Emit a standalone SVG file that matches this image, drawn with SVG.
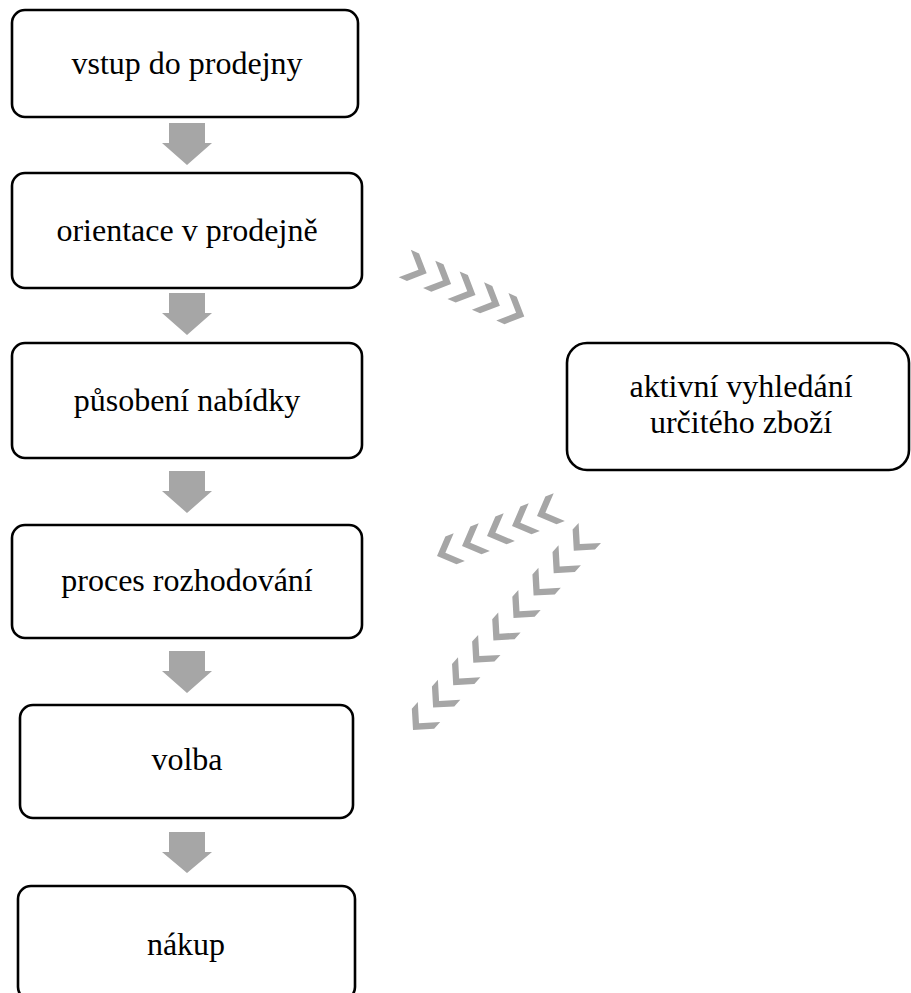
<svg xmlns="http://www.w3.org/2000/svg" xmlns:xlink="http://www.w3.org/1999/xlink" width="911" height="993" viewBox="0 0 911 993">
<style>
.box{fill:#fff;stroke:#000;stroke-width:2.6}
.t{font-family:"Liberation Serif","Times New Roman",serif;font-size:32px;fill:#000;text-anchor:middle}
.arr{fill:#a6a6a6}
</style>
<defs>
<polygon id="chev" points="0,0 -15,-15 -24,-15 -9,0 -24,15 -15,15" fill="#a6a6a6"/>
</defs>
<rect width="911" height="993" fill="#fff"/>
<g id="connectors">
<path class="arr" d="M169 123H205V143H212L187 165L162 143H169Z"/>
<path class="arr" d="M169 293H205V313H212L187 335L162 313H169Z"/>
<path class="arr" d="M169 471H205V491H212L187 513L162 491H169Z"/>
<path class="arr" d="M169 651H205V671H212L187 693L162 671H169Z"/>
<path class="arr" d="M169 832H205V852H212L187 873L162 852H169Z"/>
<g id="chevrons-out">
<use xlink:href="#chev" transform="translate(426.7,273.3) rotate(23.9)"/>
<use xlink:href="#chev" transform="translate(451.1,284.1) rotate(23.9)"/>
<use xlink:href="#chev" transform="translate(475.5,294.9) rotate(23.9)"/>
<use xlink:href="#chev" transform="translate(499.9,305.7) rotate(23.9)"/>
<use xlink:href="#chev" transform="translate(524.3,316.5) rotate(23.9)"/>
</g>
<g id="chevrons-back-1">
<use xlink:href="#chev" transform="translate(437,556) rotate(158.2)"/>
<use xlink:href="#chev" transform="translate(462,546) rotate(158.2)"/>
<use xlink:href="#chev" transform="translate(487,536) rotate(158.2)"/>
<use xlink:href="#chev" transform="translate(512,526) rotate(158.2)"/>
<use xlink:href="#chev" transform="translate(537,516) rotate(158.2)"/>
</g>
<g id="chevrons-back-2">
<use xlink:href="#chev" transform="translate(413,730) rotate(131.8)"/>
<use xlink:href="#chev" transform="translate(433.1,707.6) rotate(131.8)"/>
<use xlink:href="#chev" transform="translate(453.2,685.2) rotate(131.8)"/>
<use xlink:href="#chev" transform="translate(473.3,662.8) rotate(131.8)"/>
<use xlink:href="#chev" transform="translate(493.4,640.4) rotate(131.8)"/>
<use xlink:href="#chev" transform="translate(513.5,618) rotate(131.8)"/>
<use xlink:href="#chev" transform="translate(533.6,595.6) rotate(131.8)"/>
<use xlink:href="#chev" transform="translate(553.7,573.2) rotate(131.8)"/>
<use xlink:href="#chev" transform="translate(573.8,550.8) rotate(131.8)"/>
</g>
</g>
<g id="n1"><rect class="box" x="12" y="10" width="346" height="107" rx="13"/><text class="t" x="187" y="74">vstup do prodejny</text></g>
<g id="n2"><rect class="box" x="12" y="173" width="350" height="115" rx="13"/><text class="t" x="187" y="241">orientace v prodejně</text></g>
<g id="n3"><rect class="box" x="12" y="343" width="350" height="115" rx="13"/><text class="t" x="187" y="411">působení nabídky</text></g>
<g id="n4"><rect class="box" x="12" y="525" width="350" height="113" rx="13"/><text class="t" x="187" y="591">proces rozhodování</text></g>
<g id="n5"><rect class="box" x="20" y="705" width="333" height="113" rx="13"/><text class="t" x="187" y="770">volba</text></g>
<g id="n6"><rect class="box" x="18" y="886" width="337" height="114" rx="13"/><text class="t" x="186" y="955">nákup</text></g>
<g id="n7"><rect class="box" x="567" y="343" width="342" height="127" rx="20"/><text class="t" x="741" y="397">aktivní vyhledání</text><text class="t" x="741" y="433">určitého zboží</text></g>
</svg>
